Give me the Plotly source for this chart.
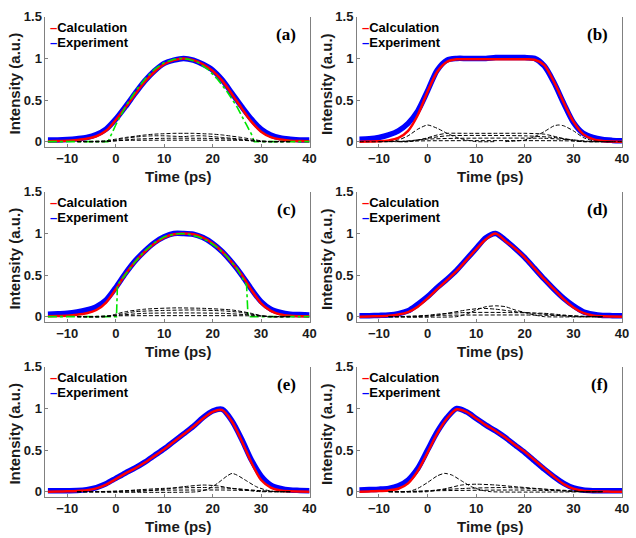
import plotly.graph_objects as go

# ---------------- data ----------------
T = [-14, -12, -10, -8, -6, -4, -2, 0, 2, 4, 6, 8, 10, 12, 14, 16, 18, 20,
     22, 24, 26, 28, 30, 32, 34, 36, 38, 40]

CALC_A = [0.005, 0.007, 0.01, 0.02, 0.035, 0.065, 0.13, 0.26, 0.41, 0.57, 0.72, 0.84, 0.93, 0.98,
          1.0, 0.98, 0.93, 0.85, 0.73, 0.57, 0.40, 0.24, 0.12, 0.055, 0.025, 0.012, 0.008, 0.005]
EXP_A = [0.02, 0.02, 0.025, 0.035, 0.05, 0.085, 0.15, 0.27, 0.42, 0.58, 0.73, 0.85, 0.94, 0.98,
         1.0, 0.98, 0.93, 0.86, 0.74, 0.58, 0.42, 0.27, 0.15, 0.08, 0.045, 0.03, 0.02, 0.02]

CALC_B = [0.0, 0.002, 0.005, 0.015, 0.045, 0.13, 0.32, 0.60, 0.84, 0.96, 0.99, 0.99, 0.99, 0.99,
          0.99, 0.99, 0.99, 0.99, 0.985, 0.92, 0.72, 0.47, 0.24, 0.09, 0.03, 0.008, 0.002, 0.0]
EXP_B = [0.03, 0.035, 0.05, 0.08, 0.13, 0.22, 0.37, 0.61, 0.86, 0.98, 1.0, 1.0, 1.0, 1.0,
         1.01, 1.01, 1.01, 1.01, 1.0, 0.91, 0.71, 0.46, 0.23, 0.1, 0.05, 0.025, 0.015, 0.01]

CALC_C = [0.005, 0.008, 0.012, 0.022, 0.04, 0.08, 0.17, 0.33, 0.51, 0.66, 0.78, 0.88, 0.95, 0.99,
          1.0, 0.99, 0.95, 0.88, 0.78, 0.65, 0.50, 0.32, 0.16, 0.07, 0.025, 0.01, 0.006, 0.005]
EXP_C = [0.03, 0.035, 0.04, 0.055, 0.08, 0.12, 0.2, 0.35, 0.52, 0.67, 0.79, 0.89, 0.96, 1.0,
         1.0, 0.99, 0.95, 0.88, 0.78, 0.65, 0.5, 0.33, 0.18, 0.09, 0.05, 0.03, 0.025, 0.02]

CALC_D = [0.0, 0.002, 0.005, 0.01, 0.025, 0.055, 0.12, 0.22, 0.33, 0.44, 0.55, 0.68, 0.81, 0.93,
          1.0, 0.91, 0.82, 0.71, 0.58, 0.45, 0.33, 0.21, 0.11, 0.045, 0.015, 0.005, 0.002, 0.0]
EXP_D = [0.01, 0.012, 0.015, 0.02, 0.035, 0.07, 0.15, 0.24, 0.35, 0.45, 0.56, 0.69, 0.82, 0.95,
         1.0, 0.92, 0.82, 0.71, 0.58, 0.45, 0.33, 0.22, 0.13, 0.06, 0.03, 0.015, 0.012, 0.01]

CALC_E = [0.0, 0.002, 0.004, 0.008, 0.017, 0.04, 0.085, 0.15, 0.22, 0.28, 0.35, 0.43, 0.51, 0.60,
          0.69, 0.78, 0.88, 0.96, 0.98, 0.84, 0.61, 0.35, 0.14, 0.05, 0.015, 0.005, 0.002, 0.0]
EXP_E = [0.01, 0.01, 0.012, 0.015, 0.025, 0.05, 0.095, 0.16, 0.225, 0.285, 0.355, 0.435, 0.515, 0.605,
         0.695, 0.785, 0.89, 0.97, 0.99, 0.85, 0.63, 0.38, 0.19, 0.08, 0.04, 0.02, 0.015, 0.01]

CALC_F = [0.0, 0.003, 0.007, 0.015, 0.035, 0.1, 0.25, 0.47, 0.70, 0.88, 0.99, 0.96, 0.88, 0.80,
          0.73, 0.65, 0.56, 0.48, 0.38, 0.28, 0.18, 0.09, 0.035, 0.012, 0.004, 0.002, 0.0, 0.0]
EXP_F = [0.02, 0.025, 0.03, 0.04, 0.07, 0.14, 0.28, 0.5, 0.72, 0.89, 1.0, 0.96, 0.88, 0.8,
         0.73, 0.65, 0.56, 0.47, 0.37, 0.27, 0.18, 0.1, 0.045, 0.02, 0.012, 0.01, 0.01, 0.01]

GREEN_A_T = [-14, -1.6, 0, 2, 4, 6, 8, 10, 12, 13.5, 15, 17, 19, 21, 23, 25, 27, 28, 28.6, 40]
GREEN_A = [0, 0, 0.2, 0.42, 0.6, 0.75, 0.87, 0.95, 0.99, 1.0, 0.99, 0.95, 0.87, 0.75, 0.6, 0.42, 0.2, 0.09, 0, 0]

GREEN_C_T = [-14, 0.15, 0.35, 2, 4, 6, 8, 10, 12, 13.5, 15, 17, 19, 21, 23, 25, 27, 27.3, 40]
GREEN_C = [0, 0, 0.38, 0.51, 0.66, 0.79, 0.89, 0.96, 0.99, 1.0, 0.99, 0.96, 0.91, 0.83, 0.72, 0.58, 0.38, 0, 0]

DASH_A = [
    ([-8, -2, 0, 2, 4, 6, 8, 10, 12, 14, 16, 18, 20, 22, 24, 26, 28, 30, 32, 36],
     [0, 0.01, 0.03, 0.05, 0.065, 0.08, 0.09, 0.095, 0.1, 0.1, 0.1, 0.095, 0.09, 0.08, 0.065, 0.05, 0.03, 0.01, 0, 0]),
    ([-8, -2, 0, 2, 4, 6, 8, 10, 12, 14, 16, 18, 20, 22, 24, 26, 28, 30, 36],
     [0, 0, 0.02, 0.04, 0.055, 0.065, 0.07, 0.07, 0.065, 0.06, 0.07, 0.07, 0.06, 0.05, 0.04, 0.03, 0.015, 0, 0]),
    ([-8, -2, 0, 4, 10, 18, 24, 28, 30, 36], [0, 0, 0.01, 0.03, 0.04, 0.04, 0.03, 0.01, 0, 0]),
    ([-8, -2, 2, 26, 30, 36], [0, 0.005, 0.015, 0.015, 0.005, 0]),
]
DASH_B = [
    ([-14, -8, -6, -4, -2, 0, 2, 4, 6, 8, 10, 14], [0, 0, 0.02, 0.07, 0.15, 0.2, 0.16, 0.1, 0.05, 0.02, 0, 0]),
    ([16, 20, 22, 24, 26, 27, 28, 30, 32, 34, 36, 40], [0, 0.02, 0.06, 0.12, 0.19, 0.2, 0.19, 0.13, 0.05, 0.01, 0, 0]),
    ([-6, -4, -1, 2, 4, 8, 14, 20, 24, 27, 30, 32, 36], [0, 0, 0.03, 0.08, 0.1, 0.1, 0.1, 0.1, 0.09, 0.05, 0.01, 0, 0]),
    ([-6, -4, 0, 4, 20, 26, 30, 32, 36], [0, 0, 0.04, 0.07, 0.07, 0.05, 0.02, 0, 0]),
    ([-8, -6, 0, 6, 24, 30, 34, 38], [0, 0, 0.03, 0.04, 0.04, 0.02, 0, 0]),
    ([-10, -8, 0, 28, 34, 38], [0, 0, 0.01, 0.01, 0, 0]),
]
DASH_C = [
    ([-8, -2, 0, 2, 6, 12, 18, 24, 28, 31, 36], [0, 0, 0.03, 0.06, 0.09, 0.105, 0.1, 0.08, 0.04, 0, 0]),
    ([-8, -2, 1, 4, 10, 16, 22, 26, 30, 32, 36], [0, 0, 0.03, 0.06, 0.075, 0.08, 0.07, 0.05, 0.01, 0, 0]),
    ([-8, -4, 0, 6, 14, 22, 28, 32, 36], [0, 0, 0.015, 0.04, 0.045, 0.04, 0.02, 0, 0]),
    ([-8, -6, 0, 28, 34, 36], [0, 0, 0.01, 0.01, 0, 0]),
]
DASH_D = [
    ([-8, 6, 8, 10, 12, 14, 16, 18, 20, 22, 24, 36], [0, 0, 0.03, 0.08, 0.12, 0.13, 0.12, 0.08, 0.05, 0.02, 0, 0]),
    ([-8, 0, 4, 8, 11, 14, 18, 22, 26, 30, 36], [0, 0, 0.04, 0.08, 0.1, 0.09, 0.06, 0.04, 0.02, 0, 0]),
    ([-8, -2, 2, 8, 16, 24, 28, 32, 36], [0, 0, 0.03, 0.05, 0.05, 0.04, 0.02, 0, 0]),
    ([-8, -6, 0, 20, 30, 34, 36], [0, 0, 0.015, 0.02, 0.01, 0, 0]),
]
DASH_E = [
    ([-8, 17, 19, 21, 23, 24, 25, 27, 29, 31, 33, 36], [0, 0, 0.03, 0.1, 0.19, 0.22, 0.2, 0.13, 0.06, 0.02, 0, 0]),
    ([-8, 4, 10, 14, 18, 21, 24, 28, 30, 36], [0, 0, 0.03, 0.06, 0.08, 0.07, 0.04, 0.01, 0, 0]),
    ([-8, 0, 4, 10, 18, 24, 30, 32, 36], [0, 0, 0.02, 0.04, 0.05, 0.04, 0.01, 0, 0]),
    ([-8, -4, 4, 22, 30, 34, 36], [0, 0, 0.015, 0.02, 0.01, 0, 0]),
]
DASH_F = [
    ([-8, -4, -2, 0, 2, 3.5, 5, 7, 9, 11, 13, 36], [0, 0, 0.04, 0.11, 0.19, 0.22, 0.2, 0.13, 0.06, 0.02, 0, 0]),
    ([-8, 0, 4, 7, 10, 14, 18, 24, 28, 30, 36], [0, 0, 0.04, 0.08, 0.09, 0.08, 0.06, 0.03, 0.01, 0, 0]),
    ([-8, -2, 2, 8, 16, 24, 30, 32, 36], [0, 0, 0.02, 0.04, 0.05, 0.03, 0.01, 0, 0]),
    ([-8, -6, 0, 18, 28, 32, 36], [0, 0, 0.01, 0.02, 0.01, 0, 0]),
]

TICK_X = [-10, 0, 10, 20, 30, 40]
TICK_Y = [0, 0.5, 1, 1.5]
TICK_Y_TEXT = ["0", "0.5", "1", "1.5"]
PANEL_LABELS = ["(a)", "(b)", "(c)", "(d)", "(e)", "(f)"]
X_TITLE = "Time (ps)"
Y_TITLE = "Intensity (a.u.)"
LEGEND_NAMES = ["Calculation", "Experiment"]

CALCS = [CALC_A, CALC_B, CALC_C, CALC_D, CALC_E, CALC_F]
EXPS = [EXP_A, EXP_B, EXP_C, EXP_D, EXP_E, EXP_F]
DASHES = [DASH_A, DASH_B, DASH_C, DASH_D, DASH_E, DASH_F]
GREENS = {0: (GREEN_A_T, GREEN_A), 2: (GREEN_C_T, GREEN_C)}

# ---------------- layout geometry (page pixels) ----------------
W, H = 636, 538
COLS = [(46, 313), (361, 629)]               # plot-area left/right
ROWS = [(10, 142), (188, 320), (366, 498)]   # plot-area top/bottom
XR = [-14.5, 40]
YR = [-0.06, 1.5]

RED = "#ff0000"
BLUE = "#0000ff"
GREEN = "#00e600"
AXC = "#808080"
TXT = "#1a1a1a"
FONT = "Liberation Sans, Arial"

fig = go.Figure()
annotations = []

for i in range(6):
    r, c = divmod(i, 2)
    xl, xr = COLS[c]
    yt, yb = ROWS[r]
    xa = "x" if i == 0 else f"x{i+1}"
    ya = "y" if i == 0 else f"y{i+1}"
    xname = "xaxis" if i == 0 else f"xaxis{i+1}"
    yname = "yaxis" if i == 0 else f"yaxis{i+1}"

    fig.add_trace(go.Scatter(x=T, y=EXPS[i], mode="lines", xaxis=xa, yaxis=ya,
                             line=dict(color=BLUE, width=5.5, shape="spline", smoothing=0.8),
                             name=LEGEND_NAMES[1], showlegend=False))
    fig.add_trace(go.Scatter(x=T, y=CALCS[i], mode="lines", xaxis=xa, yaxis=ya,
                             line=dict(color=RED, width=2.5, shape="spline", smoothing=0.8),
                             name=LEGEND_NAMES[0], showlegend=False))
    if i in GREENS:
        gt, gv = GREENS[i]
        fig.add_trace(go.Scatter(x=gt, y=gv, mode="lines", xaxis=xa, yaxis=ya,
                                 line=dict(color=GREEN, width=1.6, dash="dashdot"),
                                 showlegend=False))
    for dt, dv in DASHES[i]:
        fig.add_trace(go.Scatter(x=dt, y=dv, mode="lines", xaxis=xa, yaxis=ya,
                                 line=dict(color="black", width=1, dash="4px,2px",
                                           shape="spline", smoothing=0.6),
                                 showlegend=False))

    fig.layout[xname] = dict(
        domain=[xl / W, xr / W], anchor=ya, range=XR, tickmode="array", tickvals=TICK_X,
        ticks="inside", ticklen=3, tickcolor=AXC, showline=True, linecolor=AXC, linewidth=1,
        mirror=False, showgrid=False, zeroline=False,
        tickfont=dict(family=FONT, size=13, color=TXT, weight="bold"))
    fig.layout[yname] = dict(
        domain=[1 - yb / H, 1 - yt / H], anchor=xa, range=YR, tickmode="array",
        tickvals=TICK_Y, ticktext=TICK_Y_TEXT,
        ticks="inside", ticklen=3, tickcolor=AXC, showline=True, linecolor=AXC, linewidth=1,
        mirror=True, showgrid=False, zeroline=False,
        tickfont=dict(family=FONT, size=13, color=TXT, weight="bold"))

    annotations.append(dict(text=X_TITLE, xref="paper", yref="paper", x=(xl + xr) / 2 / W,
                            y=1 - (yb + 30) / H, xanchor="center", yanchor="middle", showarrow=False,
                            font=dict(family=FONT, size=15, color=TXT, weight="bold")))
    annotations.append(dict(text=Y_TITLE, xref="paper", yref="paper", x=(xl - 31) / W,
                            y=1 - (yt + 68) / H, xanchor="center", yanchor="middle", showarrow=False,
                            textangle=-90,
                            font=dict(family=FONT, size=15, color=TXT, weight="bold")))
    annotations.append(dict(text=f"<span style='color:{RED}'>–</span>{LEGEND_NAMES[0]}",
                            xref="paper", yref="paper", x=(xl + 3) / W, y=1 - (yt + 11) / H,
                            xanchor="left", yanchor="middle", showarrow=False,
                            font=dict(family=FONT, size=13, color="black", weight="bold")))
    annotations.append(dict(text=f"<span style='color:{BLUE}'>–</span>{LEGEND_NAMES[1]}",
                            xref="paper", yref="paper", x=(xl + 3) / W, y=1 - (yt + 26) / H,
                            xanchor="left", yanchor="middle", showarrow=False,
                            font=dict(family=FONT, size=13, color="black", weight="bold")))
    annotations.append(dict(text=PANEL_LABELS[i], xref="paper", yref="paper", x=(xr - 12) / W,
                            y=1 - (yt + 18) / H, xanchor="right", yanchor="middle", showarrow=False,
                            font=dict(family="Liberation Serif, Times New Roman", size=17,
                                      color="black", weight="bold")))

fig.update_layout(width=W, height=H, margin=dict(l=0, r=0, t=0, b=0),
                  plot_bgcolor="white", paper_bgcolor="white", showlegend=False,
                  annotations=annotations)

# remove the default 8px page margin so the figure sits at the window's top-left corner
fig.write_html("out.html", config={"displayModeBar": False},
               post_script="document.body.style.margin='0';document.body.style.overflow='hidden';")
